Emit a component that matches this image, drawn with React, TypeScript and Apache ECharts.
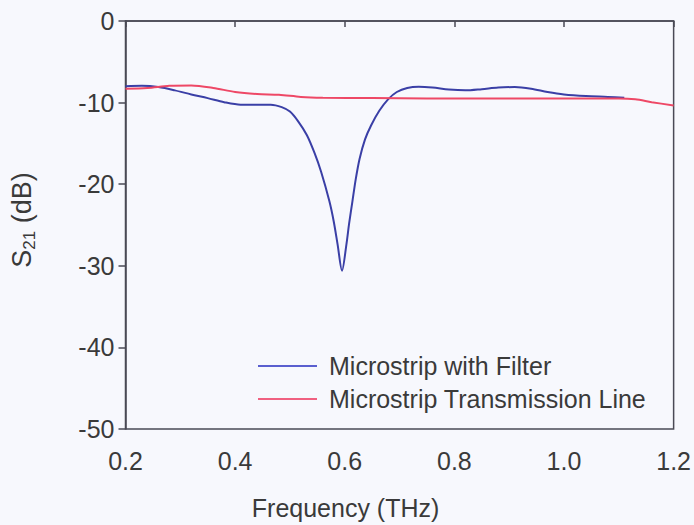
import React, { useEffect, useRef } from "react";
import * as echarts from "echarts";

const seriesNames = ["Microstrip with Filter", "Microstrip Transmission Line"];

const filterFreq = [0.2, 0.23, 0.26, 0.29, 0.32, 0.35, 0.38, 0.41, 0.44, 0.465, 0.485, 0.5, 0.515, 0.531, 0.545, 0.557, 0.572, 0.58, 0.587, 0.595, 0.603, 0.608, 0.614, 0.62, 0.627, 0.637, 0.648, 0.663, 0.679, 0.695, 0.714, 0.735, 0.76, 0.79, 0.82, 0.85, 0.88, 0.91, 0.94, 0.97, 1.0, 1.04, 1.08, 1.11];
const filterS21 = [-8.0, -7.95, -8.1, -8.5, -9.0, -9.45, -9.95, -10.25, -10.25, -10.25, -10.55, -11.1, -12.3, -14.0, -16.2, -18.5, -22.1, -24.6, -27.4, -30.6, -27.4, -24.8, -22.1, -19.4, -16.9, -14.5, -12.8, -11.0, -9.6, -8.7, -8.2, -8.05, -8.15, -8.4, -8.5, -8.35, -8.15, -8.1, -8.3, -8.7, -9.0, -9.2, -9.3, -9.4];

const lineFreq = [0.2, 0.24, 0.28, 0.32, 0.36, 0.4, 0.44, 0.48, 0.52, 0.56, 0.65, 0.75, 0.85, 0.95, 1.05, 1.1, 1.13, 1.16, 1.2];
const lineS21 = [-8.3, -8.2, -7.95, -7.9, -8.2, -8.7, -8.95, -9.05, -9.3, -9.4, -9.45, -9.5, -9.5, -9.5, -9.5, -9.5, -9.6, -9.95, -10.35];

const xMin = 0.2;
const xMax = 1.2;
const xStep = 0.2;
const yMin = -50;
const yMax = 0;
const yStep = 10;

const FONT = "'Liberation Sans', Arial, sans-serif";
const TEXT = "#3a3a3a";
const AXIS = "#4a4a55";
const FS = 25;

export default function App() {
  const ref = useRef<HTMLDivElement>(null);
  useEffect(() => {
    const chart = echarts.init(ref.current!, null, { renderer: "svg" });
    chart.setOption({
      animation: false,
      backgroundColor: "#f7f8fd",
      textStyle: { fontFamily: FONT },
      grid: { left: 110, right: 20, top: 21, bottom: 92, show: true, borderColor: AXIS, borderWidth: 1.5, backgroundColor: "transparent" },
      legend: {
        orient: "vertical",
        left: 253,
        top: 347,
        icon: "rect",
        itemWidth: 59,
        itemHeight: 2,
        itemGap: 5,
        textStyle: { fontFamily: FONT, fontSize: FS, color: TEXT, lineHeight: 28, padding: [0, 0, 0, 7] },
        data: seriesNames,
      },
      xAxis: {
        type: "value",
        min: xMin,
        max: xMax,
        interval: xStep,
        name: "Frequency (THz)",
        nameLocation: "middle",
        nameGap: 66,
        nameTextStyle: { fontFamily: FONT, fontSize: FS, color: TEXT, padding: [0, 108, 0, 0] },
        axisLine: { show: true, lineStyle: { color: AXIS, width: 1.5 } },
        axisTick: { show: true, inside: false, length: 6, lineStyle: { color: AXIS, width: 1.5 } },
        axisLabel: { fontFamily: FONT, fontSize: FS, color: TEXT, margin: 19, formatter: (v: number) => v.toFixed(1) },
        splitLine: { show: false },
      },
      yAxis: {
        type: "value",
        min: yMin,
        max: yMax,
        interval: yStep,
        name: "{s|S}{sub|21}{s| (dB)}",
        nameLocation: "middle",
        nameRotate: 90,
        nameGap: 88,
        nameTextStyle: {
          padding: [0, 0, 0, 10],
          rich: {
            s: { fontFamily: FONT, fontSize: 27, color: TEXT, lineHeight: 32 },
            sub: { fontFamily: FONT, fontSize: 17, color: TEXT, lineHeight: 17, verticalAlign: "bottom" },
          },
        },
        axisLine: { show: true, lineStyle: { color: AXIS, width: 1.5 } },
        axisTick: { show: true, inside: false, length: 7, lineStyle: { color: AXIS, width: 1.5 } },
        axisLabel: { fontFamily: FONT, fontSize: FS, color: TEXT, margin: 11 },
        splitLine: { show: false },
      },
      series: [
        {
          name: seriesNames[0],
          type: "line",
          data: filterFreq.map((f, i) => [f, filterS21[i]]),
          smooth: 0.3,
          symbol: "none",
          lineStyle: { color: "#3a3fa6", width: 2 },
          itemStyle: { color: "#5a5fcf" },
          z: 2,
        },
        {
          name: seriesNames[1],
          type: "line",
          data: lineFreq.map((f, i) => [f, lineS21[i]]),
          smooth: 0.3,
          symbol: "none",
          lineStyle: { color: "#ee4866", width: 2 },
          itemStyle: { color: "#f06080" },
          z: 3,
        },
      ],
    });
    return () => chart.dispose();
  }, []);
  return <div ref={ref} style={{ position: "fixed", left: 0, top: 0, width: 694, height: 525 }} />;
}
